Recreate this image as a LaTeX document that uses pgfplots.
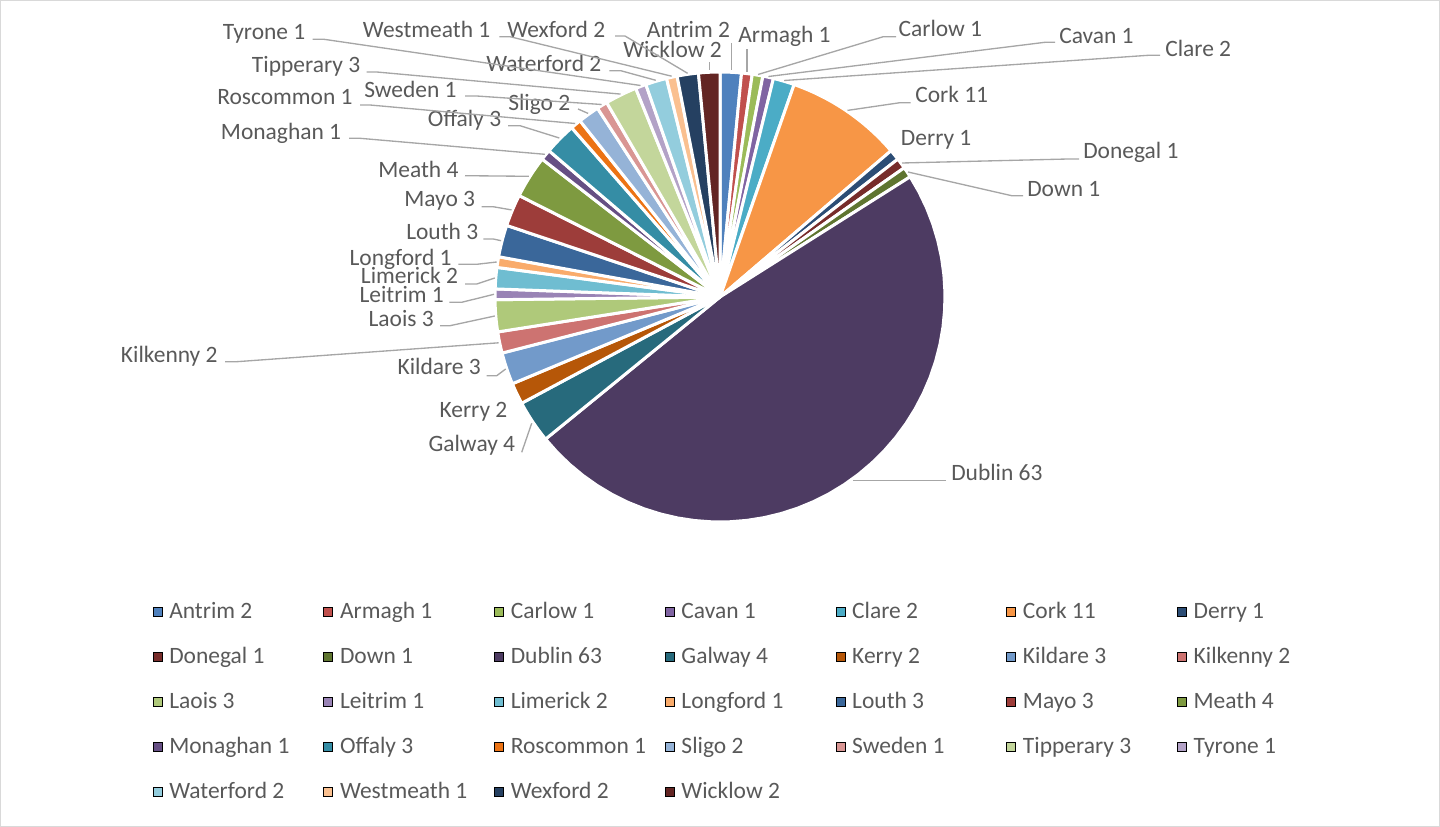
\documentclass[border=0pt]{standalone}
\usepackage{fontspec}
\setmainfont{Carlito}
\usepackage{pgfplots}
\usepackage{pgfplotstable}
\pgfplotsset{compat=1.18}

\definecolor{labgray}{HTML}{595959}
\definecolor{leadgray}{HTML}{A6A6A6}
\definecolor{framegray}{HTML}{D9D9D9}
\definecolor{cAntrim}{HTML}{4F81BD}
\definecolor{cArmagh}{HTML}{C0504D}
\definecolor{cCarlow}{HTML}{9BBB59}
\definecolor{cCavan}{HTML}{8064A2}
\definecolor{cClare}{HTML}{4BACC6}
\definecolor{cCork}{HTML}{F79646}
\definecolor{cDerry}{HTML}{2C4D75}
\definecolor{cDonegal}{HTML}{772C2A}
\definecolor{cDown}{HTML}{5F7530}
\definecolor{cDublin}{HTML}{4D3B62}
\definecolor{cGalway}{HTML}{276A7C}
\definecolor{cKerry}{HTML}{B65708}
\definecolor{cKildare}{HTML}{729ACA}
\definecolor{cKilkenny}{HTML}{CD7371}
\definecolor{cLaois}{HTML}{AFC97A}
\definecolor{cLeitrim}{HTML}{9983B5}
\definecolor{cLimerick}{HTML}{6FBDD1}
\definecolor{cLongford}{HTML}{F9AB6B}
\definecolor{cLouth}{HTML}{3A679A}
\definecolor{cMayo}{HTML}{9D3D3A}
\definecolor{cMeath}{HTML}{7E9A40}
\definecolor{cMonaghan}{HTML}{664F84}
\definecolor{cOffaly}{HTML}{358DA5}
\definecolor{cRoscommon}{HTML}{EC7314}
\definecolor{cSligo}{HTML}{95B3D7}
\definecolor{cSweden}{HTML}{D99694}
\definecolor{cTipperary}{HTML}{C3D69B}
\definecolor{cTyrone}{HTML}{B3A2C7}
\definecolor{cWaterford}{HTML}{93CDDD}
\definecolor{cWestmeath}{HTML}{FAC090}
\definecolor{cWexford}{HTML}{254061}
\definecolor{cWicklow}{HTML}{632523}

% counts per county, label position (px from top left)
\pgfplotstableread{
name       v   lx     ly
Antrim     2   646.7  30
Armagh     1   738    35.3
Carlow     1   898.3  29.2
Cavan      1   1059   35.8
Clare      2   1165   49.2
Cork       11  915    95
Derry      1   900.7  137.8
Donegal    1   1083   151.2
Down       1   1027   189.2
Dublin     63  951    473.3
Galway     4   428.3  444.5
Kerry      2   439.3  409.7
Kildare    3   397.3  367.5
Kilkenny   2   120.7  355.5
Laois      3   368.3  319.2
Leitrim    1   359.3  294.7
Limerick   2   360.7  276.3
Longford   1   349.3  257.7
Louth      3   406    231.7
Mayo       3   404    199.5
Meath      4   378    169.7
Monaghan   1   220.7  131.7
Offaly     3   427.7  119.3
Roscommon  1   217    97.5
Sligo      2   508    103.3
Sweden     1   364    90
Tipperary  3   251.7  65.3
Tyrone     1   222.7  31.7
Waterford  2   486    63.7
Westmeath  1   362.7  29.7
Wexford    2   507    29.7
Wicklow    2   623    49.7
}\piedata

\begin{document}
\begin{tikzpicture}[
    lbl/.style={font=\fontsize{17.6}{21}\selectfont, text=labgray, inner sep=0pt,
                text height=11.1pt, text depth=0pt, anchor=west},
    leader/.style={draw=leadgray, line width=1pt}]
\begin{axis}[
    width=1080pt, height=620.25pt, scale only axis,
    xmin=0, xmax=1440, ymin=0, ymax=827, y dir=reverse,
    axis lines=none, clip=false,
    legend columns=7,
    legend image code/.code={\fill[#1] (0pt,-3.375pt) rectangle (6.75pt,3.375pt);},
    legend style={draw=none, fill=none, inner sep=0pt,
        at={(axis description cs:0.1059,0.273)}, anchor=north west,
        font=\fontsize{17.6}{21}\selectfont, text=labgray,
        nodes={inner sep=0pt, text height=13pt, text depth=3pt},
        row sep=17.75pt,
        /tikz/every odd column/.append style={column sep=5.25pt},
        /tikz/every even column/.append style={column sep=0pt}},
  ]
  \path (axis cs:0,0) rectangle (axis cs:1440,827);
  \draw[framegray, line width=0.75pt] (axis cs:0.5,0.5) rectangle (axis cs:1439.5,826.5);

  \pgfplotstablegetrowsof{\piedata}
  \pgfmathtruncatemacro\lastrow{\pgfplotsretval-1}
  \def\total{0}
  \pgfplotsforeachungrouped \i in {0,...,\lastrow}{%
    \pgfplotstablegetelem{\i}{v}\of\piedata
    \pgfmathsetmacro\total{\total+\pgfplotsretval}}
  \def\cum{0}
  \pgfplotsforeachungrouped \i in {0,...,\lastrow}{%
    \pgfplotstablegetelem{\i}{name}\of\piedata \edef\nm{\pgfplotsretval}%
    \pgfplotstablegetelem{\i}{v}\of\piedata \edef\val{\pgfplotsretval}%
    \pgfplotstablegetelem{\i}{lx}\of\piedata \edef\lx{\pgfplotsretval}%
    \pgfplotstablegetelem{\i}{ly}\of\piedata \edef\ly{\pgfplotsretval}%
    \pgfmathsetmacro\a{\cum/\total*360}%
    \pgfmathsetmacro\cum{\cum+\val}%
    \pgfmathsetmacro\b{\cum/\total*360}%
    \edef\slice{\noexpand\addplot[fill=c\nm, draw=white, line width=2.25pt,
      line join=round, domain=\a:\b, samples=40, forget plot]
      ({720+225*sin(x)},{297-225*cos(x)}) -- (axis cs:720,297) -- cycle;}%
    \slice
    \edef\leg{\noexpand\addlegendimage{fill=c\nm}%
      \noexpand\addlegendentry{\noexpand\makebox[115.65pt][l]{\nm\space\val}}}%
    \leg
    \edef\lab{\noexpand\node[lbl] at (axis cs:\lx,\ly) {\nm\space\val};}%
    \lab
  }

  % leader lines
  \draw[leader] (axis cs:731.5,43) -- (axis cs:731.5,70);
  \draw[leader] (axis cs:709.3,62.5) -- (axis cs:709.3,70);
  \draw[leader] (axis cs:747,49.5) -- (axis cs:747,72);
  \draw[leader] (axis cs:896,36.7) -- (axis cs:883.3,36.7) -- (axis cs:758,74.5);
  \draw[leader] (axis cs:1055,42.3) -- (axis cs:1045,42.3) -- (axis cs:768.4,76.5);
  \draw[leader] (axis cs:1160,55.3) -- (axis cs:1148.3,55.3) -- (axis cs:784.2,80.5);
  \draw[leader] (axis cs:910.7,102.7) -- (axis cs:900,102.7) -- (axis cs:847.5,110.4);
  \draw[leader] (axis cs:1079,159) -- (axis cs:1068,159) -- (axis cs:902,163);
  \draw[leader] (axis cs:1023,195.7) -- (axis cs:1011.7,195.7) -- (axis cs:908,172);
  \draw[leader] (axis cs:946,480.7) -- (axis cs:853,480.7);
  \draw[leader] (axis cs:521.7,452.3) -- (axis cs:531.7,423.3);
  \draw[leader] (axis cs:486.7,375.7) -- (axis cs:496.7,375.7) -- (axis cs:505.7,369);
  \draw[leader] (axis cs:225,361.7) -- (axis cs:236.7,361.7) -- (axis cs:498.7,342.8);
  \draw[leader] (axis cs:440,325.7) -- (axis cs:450,325.7) -- (axis cs:494.8,316);
  \draw[leader] (axis cs:449.3,302.3) -- (axis cs:461.7,302.3) -- (axis cs:494,294.3);
  \draw[leader] (axis cs:465,284) -- (axis cs:476.7,284) -- (axis cs:494.8,278);
  \draw[leader] (axis cs:458.3,264.3) -- (axis cs:476.7,264.3) -- (axis cs:496.7,262);
  \draw[leader] (axis cs:483.3,239) -- (axis cs:493.3,239) -- (axis cs:501.1,240.7);
  \draw[leader] (axis cs:481.7,206.7) -- (axis cs:493,206.7) -- (axis cs:511.5,209.9);
  \draw[leader] (axis cs:465,175.7) -- (axis cs:528.9,176.3);
  \draw[leader] (axis cs:349,138.3) -- (axis cs:360,138.3) -- (axis cs:544.8,154.3);
  \draw[leader] (axis cs:508,125.7) -- (axis cs:520,125.7) -- (axis cs:559.3,138);
  \draw[leader] (axis cs:360,105) -- (axis cs:370,105) -- (axis cs:575.2,123.5);
  \draw[leader] (axis cs:578,109) -- (axis cs:588.1,113.4);
  \draw[leader] (axis cs:465,96) -- (axis cs:476.7,96) -- (axis cs:601.6,104.5);
  \draw[leader] (axis cs:366.7,72) -- (axis cs:376.7,72) -- (axis cs:620.5,94.1);
  \draw[leader] (axis cs:312.7,39.3) -- (axis cs:324,39.3) -- (axis cs:640.5,85.5);
  \draw[leader] (axis cs:609.3,70.7) -- (axis cs:620.7,70.7) -- (axis cs:655.8,80.3);
  \draw[leader] (axis cs:499.3,36.7) -- (axis cs:510,36.7) -- (axis cs:671.6,76.2);
  \draw[leader] (axis cs:615,36) -- (axis cs:625,36) -- (axis cs:687.6,73.3);
\end{axis}
\end{tikzpicture}
\end{document}
